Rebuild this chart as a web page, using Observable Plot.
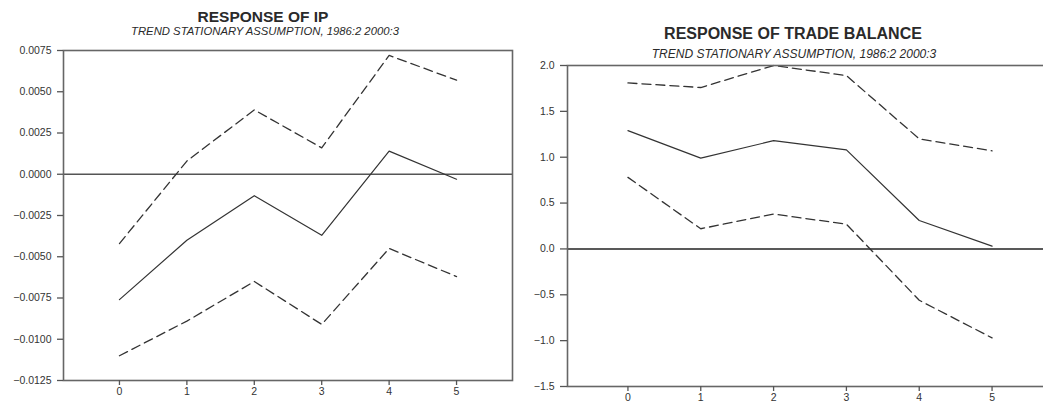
<!DOCTYPE html>
<html>
<head>
<meta charset="utf-8">
<script src="https://cdn.jsdelivr.net/npm/d3@7"></script>
<script src="https://cdn.jsdelivr.net/npm/@observablehq/plot@0.6"></script>
<style>
  html, body { margin: 0; padding: 0; background: #fff; }
  #wrap { position: relative; width: 1043px; height: 403px; overflow: hidden; font-family: "Liberation Sans", Arial, sans-serif; color: #2a2a2a; }
  .panel { position: absolute; top: 0; height: 403px; }
  .panel svg { max-width: none !important; }
  .title { position: absolute; font-weight: bold; white-space: nowrap; transform: translateX(-50%); line-height: 0.8; }
  .sub { position: absolute; font-style: italic; white-space: nowrap; transform: translateX(-50%); line-height: 0.8; }
</style>
</head>
<body>
<div id="wrap">
  <div class="panel" id="left" style="left:0px; width:520px;"></div>
  <div class="panel" id="right" style="left:520px; width:540px;"></div>
  <div class="title" style="left:263px; top:10.5px; font-size:15.5px;">RESPONSE OF IP</div>
  <div class="sub" style="left:265px; top:27px; font-size:11.3px;">TREND STATIONARY ASSUMPTION, 1986:2 2000:3</div>
  <div class="title" style="left:793px; top:28px; font-size:16px;">RESPONSE OF TRADE BALANCE</div>
  <div class="sub" style="left:794px; top:49.5px; font-size:12px;">TREND STATIONARY ASSUMPTION, 1986:2 2000:3</div>
</div>
<script>
// ---- data ----
const horizons = [0, 1, 2, 3, 4, 5];
const ipResponse = [-0.0076, -0.0040, -0.0013, -0.0037, 0.0014, -0.0003];
const ipUpper    = [-0.0042, 0.0008, 0.0039, 0.0016, 0.0072, 0.0057];
const ipLower    = [-0.0110, -0.0089, -0.0065, -0.0091, -0.0045, -0.0062];
const tbResponse = [1.29, 0.99, 1.18, 1.08, 0.31, 0.03];
const tbUpper    = [1.81, 1.76, 2.00, 1.89, 1.20, 1.07];
const tbLower    = [0.78, 0.22, 0.38, 0.27, -0.56, -0.97];
const ipTicks = [-0.0125, -0.0100, -0.0075, -0.0050, -0.0025, 0.0000, 0.0025, 0.0050, 0.0075];
const tbTicks = [-1.5, -1.0, -0.5, 0.0, 0.5, 1.0, 1.5, 2.0];

const toRows = (vals) => horizons.map((h, i) => ({h, v: vals[i]}));

function panel({width, height, margins, yTicks, yFmt, resp, up, lo, tickSizeY, tickPadY, zeroStroke}) {
  return Plot.plot({
    width, height,
    marginLeft: margins[0], marginTop: margins[1], marginRight: margins[2], marginBottom: margins[3],
    style: {fontFamily: "'Liberation Sans', Arial, sans-serif", fontSize: "10.5px", color: "#333", background: "transparent", maxWidth: "none"},
    x: {domain: [-0.83, 5.83], label: null},
    y: {domain: [yTicks[0], yTicks[yTicks.length - 1]], label: null},
    marks: [
      Plot.ruleY([0], {stroke: zeroStroke, strokeWidth: 1.4}),
      Plot.line(toRows(up), {x: "h", y: "v", stroke: "#333", strokeWidth: 1.3, strokeDasharray: "9,5"}),
      Plot.line(toRows(lo), {x: "h", y: "v", stroke: "#333", strokeWidth: 1.3, strokeDasharray: "9,5"}),
      Plot.line(toRows(resp), {x: "h", y: "v", stroke: "#333", strokeWidth: 1.2}),
      Plot.frame({stroke: "#666", strokeWidth: 1.6}),
      Plot.axisY({ticks: yTicks, tickFormat: yFmt, tickSize: tickSizeY, tickPadding: tickPadY, stroke: "#555", strokeWidth: 1.3}),
      Plot.axisX({ticks: horizons, tickFormat: d3.format("d"), tickSize: 5, tickPadding: 2, stroke: "#555", strokeWidth: 1.3})
    ]
  });
}

document.getElementById("left").append(panel({
  width: 520, height: 403, margins: [63, 50, 8, 23],
  yTicks: ipTicks, yFmt: d3.format(".4f"),
  resp: ipResponse, up: ipUpper, lo: ipLower,
  tickSizeY: 6, tickPadY: 6, zeroStroke: "#555"
}));

document.getElementById("right").append(panel({
  width: 540, height: 403, margins: [47, 65, 8, 17],
  yTicks: tbTicks, yFmt: d3.format(".1f"),
  resp: tbResponse, up: tbUpper, lo: tbLower,
  tickSizeY: 7, tickPadY: 6, zeroStroke: "#222"
}));
</script>
</body>
</html>
